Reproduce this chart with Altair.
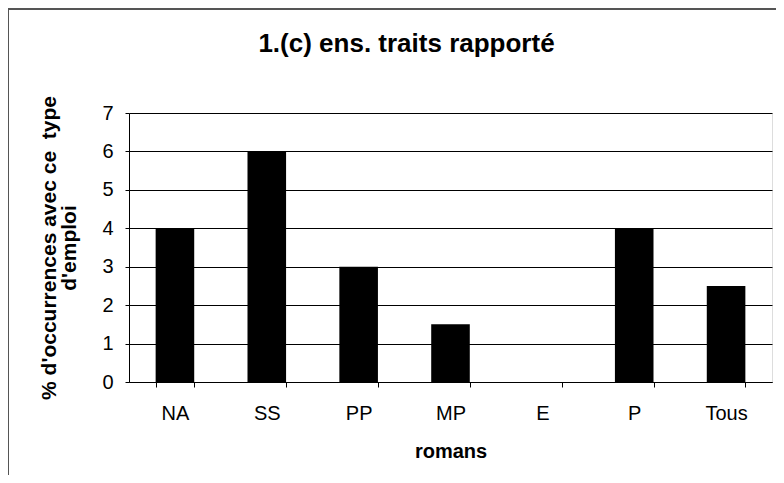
import altair as alt
import pandas as pd

categories = ["NA", "SS", "PP", "MP", "E", "P", "Tous"]
values = [4, 6, 3, 1.5, 0, 4, 2.5]
y_ticks = [0, 1, 2, 3, 4, 5, 6, 7]

df = pd.DataFrame({"roman": categories, "pct": values})

font = "Liberation Sans"

bars = alt.Chart(df).mark_bar(color="black").encode(
    x=alt.X("roman:N", sort=categories, title="romans",
            scale=alt.Scale(paddingInner=0.58, paddingOuter=0.29),
            axis=alt.Axis(labelAngle=0, tickBand="extent", grid=False,
                          labelFontSize=20, labelFont=font, labelColor="black",
                          titleFontSize=20, titleFont=font, titleColor="black",
                          titleFontWeight="bold", labelPadding=16, titlePadding=18,
                          domainColor="black", tickColor="black", tickSize=5)),
    y=alt.Y("pct:Q", title=["% d'occurrences avec ce\u00a0\u00a0type", "d'emploi"],
            scale=alt.Scale(domain=[0, 7]),
            axis=alt.Axis(values=y_ticks, format="d",
                          labelFontSize=20, labelFont=font, labelColor="black",
                          titleFontSize=21, titleFont=font, titleColor="black",
                          titleFontWeight="bold", titlePadding=22, titleLineHeight=20,
                          labelPadding=12,
                          gridColor="black", gridOpacity=1, gridWidth=1,
                          domainColor="black", tickColor="black", tickSize=4)),
)

frame_left = alt.Chart(df).mark_rule(color="#555555", strokeWidth=1).encode(
    x=alt.value(-121), y=alt.value(-104), y2=alt.value(400))
frame_top = alt.Chart(df).mark_rule(color="#555555", strokeWidth=1).encode(
    x=alt.value(-121), x2=alt.value(700), y=alt.value(-104))

chart = alt.layer(frame_left, frame_top, bars).properties(
    width=643, height=269,
    autosize=alt.AutoSizeParams(type="none"),
    padding={"left": 121, "top": 105, "right": 4, "bottom": 93},
    title=alt.TitleParams("1.(c) ens. traits rapporté", fontSize=26, font=font,
                          fontWeight="bold", color="black", offset=-48,
                          anchor="middle", dx=-44),
).configure_view(stroke="black", strokeWidth=1).configure(background="white")

chart.save("out.html", embed_options={"renderer": "svg", "actions": False})
